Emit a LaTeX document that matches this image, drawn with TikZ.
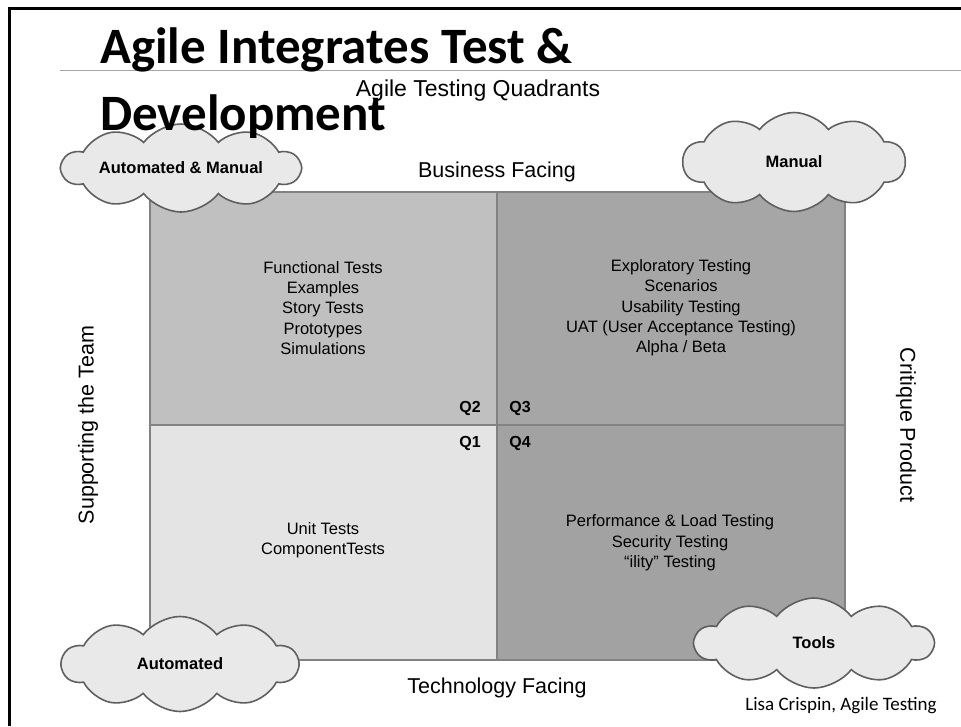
\documentclass[tikz,border=0pt]{standalone}
\usepackage{fontspec}
\setmainfont{Liberation Sans}
\newfontfamily\calfont{Carlito}
\usetikzlibrary{shapes.symbols}
\definecolor{qtwo}{RGB}{192,192,192}
\definecolor{qthree}{RGB}{166,166,166}
\definecolor{qone}{RGB}{228,228,228}
\definecolor{qfour}{RGB}{162,162,162}
\definecolor{edgegray}{RGB}{130,130,130}
\definecolor{cloudfill}{RGB}{233,233,233}
\definecolor{cloudedge}{RGB}{95,95,95}
\tikzset{
  quad/.style={draw=edgegray, line width=1.5pt},
  axislabel/.style={font=\fontsize{21.5}{25}\selectfont, inner sep=0pt},
  body/.style={font=\fontsize{16.5}{20.3}\selectfont, align=center, inner sep=0pt},
  qlabel/.style={font=\fontsize{16}{19}\selectfont\bfseries, inner sep=0pt},
  cloudbox/.style={cloud, cloud puffs=10, cloud puff arc=105, cloud ignores aspect, draw=cloudedge, line width=1.6pt, fill=cloudfill, font=\fontsize{16.5}{20}\selectfont\bfseries, inner sep=0pt},
  titletext/.style={font=\calfont\fontsize{51}{56}\selectfont\bfseries, anchor=base west, inner sep=0pt}
}
\begin{document}
\begin{tikzpicture}[x=1pt,y=-1pt]
\useasboundingbox (0,0) rectangle (961,726);
% slide frame
\draw[line width=3pt] (9,726) -- (9,8) -- (961,8);
\draw[gray!70, line width=1pt] (60,70) -- (961,70);
% quadrants
\fill[qtwo] (150,192) rectangle (497,425);
\fill[qthree] (497,192) rectangle (845,425);
\fill[qone] (150,425) rectangle (497,660);
\fill[qfour] (497,425) rectangle (845,660);
\draw[quad] (150,192) rectangle (845,660);
\draw[quad] (497,192) -- (497,660);
\draw[quad] (150,425) -- (845,425);
% axis labels
\node[axislabel, font=\fontsize{23}{27}\selectfont] (atq) at (478,91) {Agile Testing Quadrants};
\node[axislabel] (bf) at (497,172) {Business Facing};
\node[axislabel] (tf) at (497,688) {Technology Facing};
\node[axislabel, rotate=90] (st) at (88,425) {Supporting the Team};
\node[axislabel, rotate=-90] (cp) at (906,425) {Critique Product};
% quadrant contents
\node[body] (q2t) at (323,308) {Functional Tests\\Examples\\Story Tests\\Prototypes\\Simulations};
\node[body] (q3t) at (681,308) {Exploratory Testing\\Scenarios\\Usability Testing\\UAT (User Acceptance Testing)\\Alpha / Beta};
\node[body] (q1t) at (323,540) {Unit Tests\\ComponentTests};
\node[body] (q4t) at (670,543) {Performance \& Load Testing\\Security Testing\\“ility” Testing};
\node[qlabel] (q2) at (470,408) {Q2};
\node[qlabel] (q3) at (520,408) {Q3};
\node[qlabel] (q1) at (470,443) {Q1};
\node[qlabel] (q4) at (520,443) {Q4};
% clouds
\node[cloudbox, minimum width=238pt, minimum height=88pt] (c1) at (181,168) {Automated \& Manual};
\node[cloudbox, minimum width=222pt, minimum height=99pt] (c2) at (794,162) {Manual};
\node[cloudbox, minimum width=236pt, minimum height=95pt] (c3) at (180,664) {Automated};
\node[cloudbox, minimum width=238pt, minimum height=90pt] (c4) at (814,643) {Tools};
% title
\node[titletext] (t1) at (100,63) {Agile Integrates Test \&};
\node[titletext] (t2) at (100,130) {Development};
% credit
\node[font=\calfont\fontsize{19}{23}\selectfont, inner sep=0pt] (cr) at (841,706) {Lisa Crispin, Agile Testing};
\end{tikzpicture}
\end{document}
